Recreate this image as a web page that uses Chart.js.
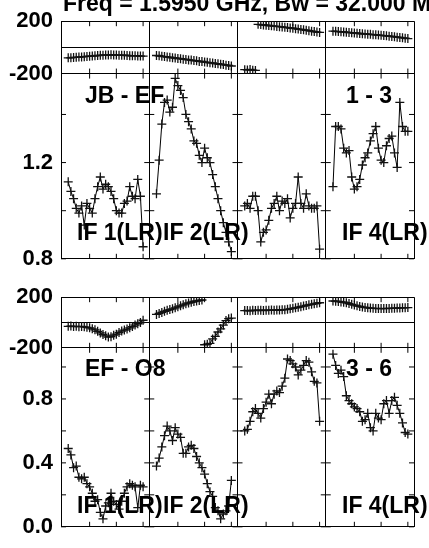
<!DOCTYPE html>
<html>
<head>
<meta charset="utf-8">
<script src="https://cdn.jsdelivr.net/npm/chart.js@4.4.1/dist/chart.umd.min.js"></script>
<style>
  html, body { margin: 0; padding: 0; background: #fff; }
  #wrap { position: relative; width: 429px; height: 548px; overflow: hidden;
          font-family: "Liberation Sans", Arial, sans-serif; font-weight: bold; color: #000; }
  #wrap canvas { position: absolute; left: 0; }
  .lbl { position: absolute; font-size: 23px; line-height: 23px; white-space: nowrap; }
</style>
</head>
<body>
<div id="wrap">
  <canvas id="plotTop" width="429" height="280" style="top:0"></canvas>
  <canvas id="plotBottom" width="429" height="272" style="top:276px"></canvas>

  <div class="lbl" style="left:63px;top:-8px">Freq = 1.5950 GHz, Bw = 32.000 MHz</div>

  <div class="lbl" style="left:85px;top:84px">JB - EF</div>
  <div class="lbl" style="left:346px;top:84px">1 - 3</div>
  <div class="lbl" style="left:77px;top:221px">IF 1(LR)</div>
  <div class="lbl" style="left:163px;top:221px">IF 2(LR)</div>
  <div class="lbl" style="left:342px;top:221px">IF 4(LR)</div>

  <div class="lbl" style="left:85px;top:357px">EF - O8</div>
  <div class="lbl" style="left:346px;top:357px">3 - 6</div>
  <div class="lbl" style="left:77px;top:494px">IF 1(LR)</div>
  <div class="lbl" style="left:163px;top:494px">IF 2(LR)</div>
  <div class="lbl" style="left:342px;top:494px">IF 4(LR)</div>
</div>

<script>
// channel layout, each IF gets its own strip on a shared x axis
const channels = [2,3,4,5,6,7,8,9,10,11,12,13,14,15,16,17,18,19,20,21,22,23,24,25,26,27,28,29,30];
const ifSpan = 33;
const ifEdges = [-0.7, 32.3, 65.3, 98.3, 131.3];
const chanTicks = [10, 20, 30];

const phaseRange = [-200, 200];
const phaseTicks = [-200, 0, 200];

const topAmpRange = [0.8, 1.57];
const topAmpLabels = [0.8, 1.2];
const topAmpMinor = [0.8, 1.0, 1.2, 1.4];

const botAmpRange = [0.0, 1.12];
const botAmpLabels = [0.0, 0.4, 0.8];
const botAmpMinor = [0.0, 0.2, 0.4, 0.6, 0.8, 1.0];

// JB - EF (1 - 3), one row per IF
const jbEfPhase = [
  [-80,-79,-77,-76,-74,-73,-71,-69,-67,-66,-64,-62,-61,-60,-58,-59,-57,-58,-59,-60,-61,-60,-62,-63,-64,-63,-65,-66,-66],
  [-62,-64,-68,-70,-74,-75,-79,-81,-85,-86,-90,-92,-96,-97,-101,-103,-107,-108,-112,-114,-118,-119,-124,-125,-129,-131,-136,-138,-142],
  [-170,-172,-169,-174,-176,176,174,171,170,167,165,163,160,158,156,153,151,148,146,143,140,137,134,131,128,124,121,117,114],
  [124,123,121,119,118,116,113,112,110,108,106,104,103,101,100,97,96,94,92,90,88,86,84,81,78,76,73,70,67]
];
const jbEfAmp = [
  [1.12,1.08,1.05,1.01,0.99,1.02,0.94,1.03,1.01,0.99,1.05,1.10,1.14,1.09,1.11,1.10,1.08,1.05,1.00,0.99,0.99,1.03,1.04,1.10,1.06,1.05,1.13,1.06,0.85],
  [1.07,1.21,1.36,1.45,1.46,1.41,1.43,1.55,1.52,1.50,1.47,1.40,1.37,1.34,1.29,1.28,1.23,1.20,1.26,1.22,1.20,1.15,1.10,1.05,1.00,0.95,0.91,0.87,0.83],
  [1.02,1.03,1.01,1.06,1.06,1.00,0.87,0.91,0.92,0.96,1.01,1.03,1.06,1.00,1.04,1.03,1.05,0.97,1.01,1.03,1.14,1.03,1.01,1.07,1.02,1.01,1.01,1.02,0.84],
  [1.10,1.35,1.35,1.34,1.26,1.24,1.25,1.14,1.09,1.10,1.13,1.19,1.22,1.24,1.29,1.32,1.35,1.26,1.21,1.20,1.27,1.30,1.31,1.24,1.18,1.45,1.35,1.33,1.33]
];

// EF - O8 (3 - 6)
const efO8Phase = [
  [-30,-28,-32,-30,-33,-31,-34,-38,-42,-50,-58,-70,-82,-95,-105,-115,-112,-100,-92,-80,-68,-60,-52,-42,-32,-20,-10,0,18],
  [64,72,80,88,96,102,108,116,124,132,140,148,154,160,166,170,174,178,-176,-172,-165,-130,-110,-75,-50,-20,15,30,35],
  [94,95,93,96,95,97,96,95,97,96,98,97,98,99,100,101,104,108,112,116,120,125,130,135,140,144,148,152,156],
  [170,168,166,163,160,156,150,144,138,132,127,122,119,116,114,112,111,110,110,111,110,111,112,113,114,115,116,117,118]
];
const efO8Amp = [
  [0.49,0.45,0.37,0.38,0.31,0.30,0.31,0.27,0.25,0.21,0.16,0.17,0.09,0.05,0.13,0.15,0.21,0.16,0.14,0.11,0.16,0.21,0.25,0.27,0.26,0.25,0.12,0.26,0.25],
  [0.38,0.43,0.50,0.57,0.63,0.60,0.54,0.62,0.58,0.56,0.46,0.46,0.50,0.51,0.49,0.44,0.40,0.37,0.33,0.27,0.22,0.19,0.12,0.10,0.05,0.08,0.10,0.13,0.29],
  [0.60,0.61,0.66,0.72,0.74,0.71,0.68,0.74,0.78,0.83,0.77,0.83,0.85,0.84,0.88,0.93,1.05,1.04,1.02,1.00,0.95,0.98,1.01,1.04,1.03,0.97,0.91,0.90,0.66],
  [1.08,1.01,0.96,0.98,0.94,0.82,0.79,0.77,0.75,0.74,0.72,0.66,0.67,0.71,0.62,0.60,0.71,0.68,0.67,0.77,0.79,0.71,0.79,0.81,0.76,0.71,0.65,0.59,0.58]
];

const TICK = 5;
const labelFont = { family: '"Liberation Sans", Arial, sans-serif', size: 22, weight: 'bold' };

// inward tick marks on every IF sub-panel, like the AIPS frames
const innerTicks = {
  id: 'innerTicks',
  afterDraw(chart, args, opts) {
    const ctx = chart.ctx;
    const x = chart.scales.x, ya = chart.scales.yAmp, yp = chart.scales.yPhase;
    ctx.save();
    ctx.strokeStyle = '#000';
    ctx.lineWidth = 1;
    ctx.beginPath();
    for (let i = 0; i < 4; i++) {
      const l = x.getPixelForValue(ifEdges[i]);
      const r = x.getPixelForValue(ifEdges[i + 1]);
      opts.ampMinor.forEach(v => {
        const py = ya.getPixelForValue(v);
        ctx.moveTo(l, py); ctx.lineTo(l + TICK, py);
        ctx.moveTo(r, py); ctx.lineTo(r - TICK, py);
      });
      chanTicks.forEach(c => {
        const px = x.getPixelForValue(i * ifSpan + c);
        [ya, yp].forEach(s => {
          ctx.moveTo(px, s.top); ctx.lineTo(px, s.top + TICK);
          ctx.moveTo(px, s.bottom); ctx.lineTo(px, s.bottom - TICK);
        });
      });
    }
    ctx.stroke();
    ctx.restore();
  }
};

function series(ifIdx, vals, axis, wrap) {
  const ds = {
    data: vals.map((v, k) => ({ x: ifIdx * ifSpan + channels[k], y: v })),
    yAxisID: axis,
    borderColor: '#000',
    borderWidth: 1,
    pointStyle: 'cross',
    pointRadius: 4.5,
    pointBorderColor: '#111',
    pointBorderWidth: 1.3,
    tension: 0,
    fill: false
  };
  if (wrap) {
    // no connecting line where the phase wraps round
    ds.segment = {
      borderColor: c => Math.abs(c.p1.parsed.y - c.p0.parsed.y) > 180 ? 'rgba(0,0,0,0)' : '#000'
    };
  }
  return ds;
}

function buildPlot(canvasId, phase, amp, ampRange, ampLabels, ampMinor, pad) {
  const datasets = [];
  amp.forEach((vals, i) => datasets.push(series(i, vals, 'yAmp', false)));
  phase.forEach((vals, i) => datasets.push(series(i, vals, 'yPhase', true)));

  return new Chart(document.getElementById(canvasId), {
    type: 'line',
    data: { datasets },
    options: {
      responsive: false,
      animation: false,
      layout: { padding: pad, autoPadding: false },
      plugins: {
        legend: { display: false },
        tooltip: { enabled: false },
        innerTicks: { ampMinor }
      },
      scales: {
        x: {
          type: 'linear',
          min: ifEdges[0],
          max: ifEdges[4],
          afterBuildTicks: s => { s.ticks = ifEdges.map(v => ({ value: v })); },
          ticks: { display: false },
          grid: { color: '#000', lineWidth: 1, drawTicks: false },
          border: { display: false },
          afterFit: s => { s.height = 0; }
        },
        yPhase: {
          type: 'linear',
          position: 'left',
          stack: 'panel',
          stackWeight: 54,
          weight: 2,
          min: phaseRange[0],
          max: phaseRange[1],
          afterBuildTicks: s => { s.ticks = phaseTicks.map(v => ({ value: v })); },
          ticks: {
            autoSkip: false,
            padding: 8,
            color: '#000',
            font: labelFont,
            callback: v => v === 0 ? '' : String(v)
          },
          grid: { color: '#000', lineWidth: 1, drawTicks: false },
          border: { display: false },
          afterFit: s => { s.width = 61; }
        },
        yAmp: {
          type: 'linear',
          position: 'left',
          stack: 'panel',
          stackWeight: 191,
          weight: 1,
          min: ampRange[0],
          max: ampRange[1],
          afterBuildTicks: s => { s.ticks = ampLabels.map(v => ({ value: v })); },
          ticks: {
            autoSkip: false,
            padding: 8,
            color: '#000',
            font: labelFont,
            callback: v => v.toFixed(1)
          },
          grid: {
            color: c => (c.tick && c.tick.value === ampRange[0]) ? '#000' : 'rgba(0,0,0,0)',
            lineWidth: 1,
            drawTicks: false
          },
          border: { display: false },
          afterFit: s => { s.width = 61; }
        }
      }
    },
    plugins: [innerTicks]
  });
}

buildPlot('plotTop', jbEfPhase, jbEfAmp, topAmpRange, topAmpLabels, topAmpMinor,
  { top: 16, right: 15, bottom: 19, left: 0 });
buildPlot('plotBottom', efO8Phase, efO8Amp, botAmpRange, botAmpLabels, botAmpMinor,
  { top: 13, right: 15, bottom: 15, left: 0 });
</script>
</body>
</html>
